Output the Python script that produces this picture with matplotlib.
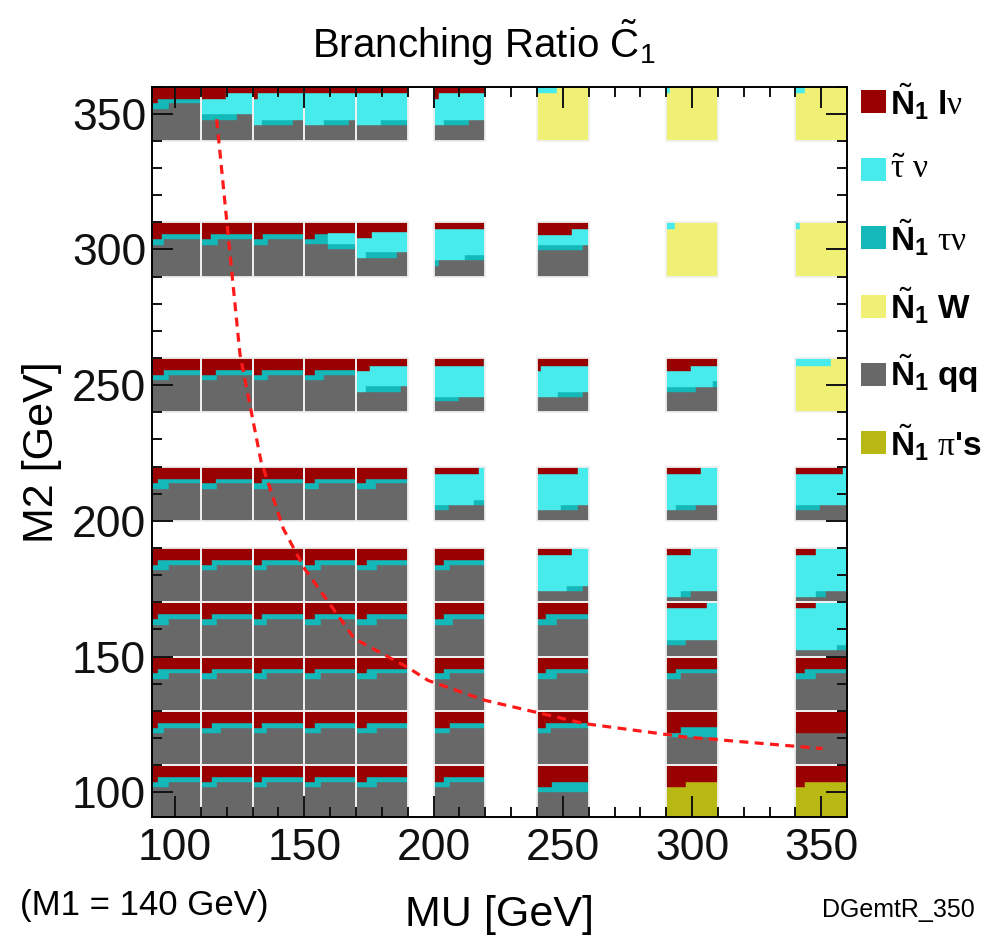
import matplotlib
matplotlib.use("Agg")
import matplotlib.pyplot as plt
from matplotlib.patches import Rectangle
from matplotlib.ticker import MultipleLocator

plt.rcParams['font.family'] = ['Liberation Sans', 'DejaVu Sans']
plt.rcParams['mathtext.fontset'] = 'custom'
plt.rcParams['mathtext.rm'] = 'Liberation Sans'
plt.rcParams['mathtext.it'] = 'Liberation Sans:italic'
plt.rcParams['mathtext.bf'] = 'Liberation Sans:bold'
plt.rcParams['mathtext.sf'] = 'Liberation Serif'   # used for the upright greek letters

# grid of scan points
mu_values = [100, 120, 140, 160, 180, 210, 250, 300, 350]
m2_values = [100, 120, 140, 160, 180, 210, 250, 300, 350]

# layer order bottom -> top (cumulative tops given per box), last layer (N1 l nu) fills to 1
layer_keys = ['pi', 'W', 'qq', 'tn', 'st']
layer_colors = {'pi': '#b8b814', 'W': '#f0f074', 'qq': '#686868',
                'tn': '#14b8b8', 'st': '#48ebeb', 'lnu': '#990000'}

# most boxes: qq / N1 tau nu / N1 l nu with two steps
std_qq_levels = (0.59, 0.69)
std_tn_levels = (0.69, 0.78)
# (mu, m2): (step of N1 tau nu top, step of qq top)
std_steps = {
    (100, 100): (.17, .38), (120, 100): (.21, .31), (140, 100): (.18, .28), (160, 100): (.21, .32),
    (180, 100): (.21, .41), (210, 100): (.21, .31),
    (100, 120): (.17, .28), (120, 120): (.21, .38), (140, 120): (.18, .28), (160, 120): (.21, .32),
    (180, 120): (.21, .41), (210, 120): (.31, .31), (250, 120): (.18, .28),
    (100, 140): (.17, .38), (120, 140): (.21, .31), (140, 140): (.18, .28), (160, 140): (.21, .32),
    (180, 140): (.21, .41), (210, 140): (.21, .31), (250, 140): (.18, .38), (300, 140): (.19, .29),
    (350, 140): (.19, .40),
    (100, 160): (.17, .38), (120, 160): (.21, .31), (140, 160): (.18, .28), (160, 160): (.21, .32),
    (180, 160): (.21, .41), (210, 160): (.21, .38), (250, 160): (.18, .38),
    (100, 180): (.17, .38), (120, 180): (.21, .31), (140, 180): (.18, .28), (160, 180): (.21, .32),
    (180, 180): (.21, .41), (210, 180): (.21, .31),
    (100, 210): (.17, .38), (120, 210): (.30, .31), (140, 210): (.18, .29), (160, 210): (.20, .29),
    (180, 210): (.20, .39),
    (100, 250): (.28, .38), (120, 250): (.30, .31), (140, 250): (.18, .29), (160, 250): (.20, .39),
    (100, 300): (.24, .28), (120, 300): (.20, .33), (140, 300): (.20, .30),
    (100, 350): (.17, .38),
}

# remaining boxes: cumulative tops as [(value, until_x), ...] or a constant
special = {
    (250, 100): {'qq': .51, 'tn': [(.60, .29), (.69, 1)]},
    (300, 100): {'pi': [(.60, .39), (.69, 1)]},
    (350, 100): {'pi': [(.60, .19), (.69, 1)]},
    (300, 120): {'qq': .51, 'tn': [(.60, .29), (.70, 1)]},
    (350, 120): {'qq': .60},
    (300, 160): {'qq': [(.22, .39), (.31, 1)], 'tn': .31, 'st': [(.89, .78), (1, 1)]},
    (350, 160): {'qq': .13, 'tn': [(.13, .81), (.22, 1)], 'st': [(.89, .40), (1, 1)]},
    (250, 180): {'qq': [(.20, .90), (.30, 1)], 'tn': [(.20, .58), (.30, 1)], 'st': [(.87, .68), (1, 1)]},
    (300, 180): {'qq': [(.10, .47), (.20, 1)], 'tn': [(.10, .29), (.20, 1)], 'st': [(.87, .47), (1, 1)]},
    (350, 180): {'qq': [(.10, .59), (.20, 1)], 'tn': [(.10, .40), (.20, 1)], 'st': [(.87, .40), (1, 1)]},
    (210, 210): {'qq': [(.20, .30), (.30, 1)], 'tn': [(.30, .79), (.38, 1)], 'st': [(.86, .87), (1, 1)]},
    (250, 210): {'qq': [(.20, .79), (.30, 1)], 'tn': [(.20, .47), (.30, 1)], 'st': [(.86, .79), (1, 1)]},
    (300, 210): {'qq': [(.20, .58), (.30, 1)], 'tn': [(.20, .19), (.30, 1)], 'st': [(.86, .68), (1, 1)]},
    (350, 210): {'qq': [(.20, .48), (.30, 1)], 'tn': .30, 'st': [(.86, .91), (1, 1)]},
    (180, 250): {'qq': [(.38, .87), (.48, 1)], 'tn': [(.38, .20), (.48, 1)], 'st': [(.76, .28), (.85, 1)]},
    (210, 250): {'qq': [(.20, .49), (.28, 1)], 'tn': .28, 'st': [(.86, .97), (1, 1)]},
    (250, 250): {'qq': [(.28, .90), (.37, 1)], 'tn': [(.28, .40), (.37, 1)], 'st': [(.76, .08), (.86, 1)]},
    (300, 250): {'qq': [(.37, .58), (.47, 1)], 'tn': [(.47, .90), (.57, 1)], 'st': [(.76, .48), (.86, 1)]},
    (350, 250): {'W': [(.86, .69), (1, 1)], 'st': 1},
    (160, 300): {'qq': [(.60, .45), (.50, 1)], 'tn': [(.69, .20), (.78, .45), (.60, 1)],
                 'st': [(.69, .20), (.78, .45), (.80, 1)]},
    (180, 300): {'qq': [(.35, .80), (.45, 1)], 'tn': [(.35, .20), (.45, 1)], 'st': [(.72, .30), (.82, 1)]},
    (210, 300): {'qq': [(.20, .11), (.30, 1)], 'tn': [(.30, .60), (.40, 1)], 'st': .88},
    (250, 300): {'qq': [(.49, .89), (.59, 1)], 'tn': .59, 'st': [(.77, .68), (.88, 1)]},
    (300, 300): {'W': [(.88, .17), (1, 1)], 'st': 1},
    (350, 300): {'W': [(.88, .09), (1, 1)], 'st': 1},
    (120, 350): {'qq': [(.39, .69), (.49, 1)], 'tn': .49, 'st': [(.78, .49), (.875, 1)]},
    (140, 350): {'qq': [(.29, .78), (.39, 1)], 'tn': [(.29, .18), (.39, 1)], 'st': [(.78, .11), (.875, 1)]},
    (160, 350): {'qq': [(.29, .87), (.39, 1)], 'tn': [(.29, .39), (.39, 1)], 'st': .875},
    (180, 350): {'qq': .29, 'tn': [(.29, .49), (.39, 1)], 'st': .875},
    (210, 350): {'qq': [(.29, .69), (.39, 1)], 'tn': [(.29, .21), (.39, 1)], 'st': [(.78, .11), (.875, 1)]},
    (250, 350): {'W': [(.89, .38), (1, 1)], 'st': 1},
    (300, 350): {'W': [(.89, .07), (1, 1)], 'st': 1},
    (350, 350): {'W': [(.89, .19), (1, 1)], 'st': 1},
}

# dashed curve
curve_mu = [116.1, 125.1, 133.2, 141.9, 150.1, 169.4, 190.0, 197.9, 219.8, 258.4, 297.1, 350.5]
curve_m2 = [348.0, 261.5, 222.2, 197.1, 182.4, 156.6, 146.0, 141.2, 133.9, 125.3, 120.4, 116.1]

legend_labels = [r'$\tilde{\mathbf{N}}_{\mathbf{1}}$ $\mathbf{l}\mathsf{\nu}$',
                 r'$\tilde{\mathsf{\tau}}\ \mathsf{\nu}$',
                 r'$\tilde{\mathbf{N}}_{\mathbf{1}}$ $\mathsf{\tau\nu}$',
                 r'$\tilde{\mathbf{N}}_{\mathbf{1}}$ $\mathbf{W}$',
                 r'$\tilde{\mathbf{N}}_{\mathbf{1}}$ $\mathbf{qq}$',
                 r"$\tilde{\mathbf{N}}_{\mathbf{1}}$ $\mathsf{\pi}$'$\mathbf{s}$"]
legend_colors = ['#990000', '#48ebeb', '#14b8b8', '#f0f074', '#686868', '#b8b814']


def step_val(b, x):
    if isinstance(b, (int, float)):
        return b
    for v, xe in b:
        if x < xe:
            return v
    return b[-1][0]


def step_breaks(b):
    if isinstance(b, (int, float)):
        return []
    return [xe for v, xe in b[:-1]]


def box_spec(mu, m2):
    if (mu, m2) in std_steps:
        s_tn, s_qq = std_steps[(mu, m2)]
        return {'qq': [(std_qq_levels[0], s_qq), (std_qq_levels[1], 1)],
                'tn': [(std_tn_levels[0], s_tn), (std_tn_levels[1], 1)]}
    return special[(mu, m2)]


fig = plt.figure(figsize=(9.92, 9.47), dpi=100)
ax = fig.add_axes([0.153, 0.1376, 0.701, 0.7709])

for mu in mu_values:
    for m2 in m2_values:
        spec = box_spec(mu, m2)
        xs = [0.0, 1.0]
        for k in spec:
            xs += step_breaks(spec[k])
        xs = sorted(set(xs))
        for a, c in zip(xs[:-1], xs[1:]):
            mid = 0.5 * (a + c)
            lo = 0.0
            for k in layer_keys:
                if k not in spec:
                    continue
                val = step_val(spec[k], mid)
                if val > lo:
                    ax.bar(mu - 10 + 20 * a, 20 * (val - lo), width=20 * (c - a),
                           bottom=m2 - 10 + 20 * lo, align='edge',
                           color=layer_colors[k], edgecolor=layer_colors[k], lw=0.3, zorder=1)
                lo = max(lo, val)
            if lo < 1:
                ax.bar(mu - 10 + 20 * a, 20 * (1 - lo), width=20 * (c - a),
                       bottom=m2 - 10 + 20 * lo, align='edge',
                       color=layer_colors['lnu'], edgecolor=layer_colors['lnu'], lw=0.3, zorder=1)
        ax.add_patch(Rectangle((mu - 10, m2 - 10), 20, 20, fill=False,
                               edgecolor='#f0f0f0', lw=1.3, zorder=1.5))

ax.plot(curve_mu, curve_m2, color='#ff1a1a', lw=2.3, dashes=(2.8, 2.0), zorder=3)

ax.set_xlim(91, 360)
ax.set_ylim(91, 360)
ax.xaxis.set_major_locator(MultipleLocator(50))
ax.xaxis.set_minor_locator(MultipleLocator(10))
ax.yaxis.set_major_locator(MultipleLocator(50))
ax.yaxis.set_minor_locator(MultipleLocator(10))
ax.tick_params(which='both', direction='in', top=True, right=True, width=1.4, colors='#111111')
ax.tick_params(which='major', length=15)
ax.tick_params(which='minor', length=7.5)
ax.tick_params(axis='x', which='major', labelsize=32, pad=8)
ax.tick_params(axis='y', which='major', labelsize=32, pad=4)
for sp in ax.spines.values():
    sp.set_linewidth(1.4)

fig.text(0.488, 0.955, r'Branching Ratio $\tilde{\mathrm{C}}_{1}$', fontsize=29,
         ha='center', va='center')
fig.text(0.504, 0.034, 'MU [GeV]', fontsize=31, ha='center', va='center')
fig.text(0.042, 0.523, 'M2 [GeV]', fontsize=31, ha='center', va='center', rotation=90)
fig.text(0.02, 0.044, '(M1 = 140 GeV)', fontsize=25, ha='left', va='center')
fig.text(0.983, 0.039, 'DGemtR_350', fontsize=18, ha='right', va='center')

for i, (lab, col) in enumerate(zip(legend_labels, legend_colors)):
    yc = 1 - (101.5 + 68.2 * i) / 947
    fig.add_artist(Rectangle((0.868, yc - 0.0122), 0.0252, 0.0244, transform=fig.transFigure,
                             facecolor=col, edgecolor='none'))
    fig.text(0.897, yc, lab, fontsize=24, fontweight='bold', ha='left', va='center')

fig.savefig('out.png', dpi=100)
